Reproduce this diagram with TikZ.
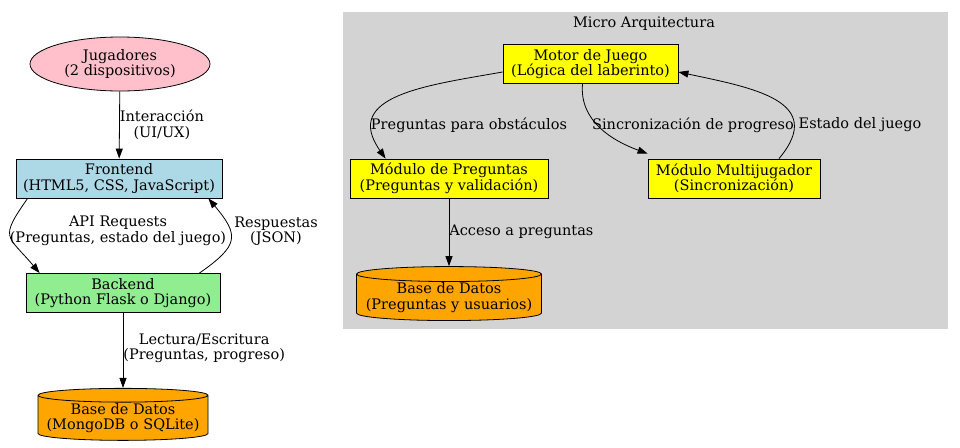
\documentclass[tikz,border=0pt]{standalone}
\usepackage{fontspec}
\setmainfont{DejaVu Serif}
\usetikzlibrary{arrows.meta,shapes.geometric}
\definecolor{rosa}{HTML}{FFC0CB}
\definecolor{azulclaro}{HTML}{ADD8E6}
\definecolor{verdeclaro}{HTML}{90EE90}
\definecolor{naranja}{HTML}{FFA500}
\definecolor{amarillo}{HTML}{FFFF00}
\definecolor{grisclaro}{HTML}{D3D3D3}
\begin{document}
\begin{tikzpicture}[
    x=1pt,
    y=-1pt,
    >={Triangle[length=10pt,width=7pt]},
    line width=0.8pt,
    font=\fontsize{14.5}{15.5}\selectfont,
    caja/.style={
        draw,
        inner sep=0pt,
        minimum height=39pt,
        align=center
    },
    usuario/.style={
        draw,
        ellipse,
        inner sep=0pt,
        minimum width=180pt,
        minimum height=54pt,
        align=center,
        fill=rosa
    },
    datos/.style={
        draw,
        cylinder,
        shape border rotate=90,
        aspect=0.09,
        inner sep=0pt,
        align=center,
        fill=naranja
    },
    grupo/.style={
        fill=grisclaro,
        minimum width=605pt,
        minimum height=317pt
    },
    etiqueta/.style={
        inner sep=1pt,
        align=center
    }
]
    \useasboundingbox (0,0) rectangle (960,447);

    % bloque de la micro arquitectura
    \node[grupo] (micro) at (645.5,170.5) {};
    \node[anchor=north,inner sep=0pt] (micro-titulo) at (644,16) {Micro Arquitectura};

    % arquitectura general
    \node[usuario] (jugadores) at (120,64)
        {Jugadores\\(2 dispositivos)};
    \node[caja,fill=azulclaro,minimum width=206pt] (frontend) at (119,178.5)
        {Frontend\\(HTML5, CSS, JavaScript)};
    \node[caja,fill=verdeclaro,minimum width=194pt] (backend) at (123,293)
        {Backend\\(Python Flask o Django)};
    \node[datos,minimum width=170pt,minimum height=52pt] (bd) at (123,418)
        {Base de Datos\\(MongoDB o SQLite)};

    % componentes internos
    \node[caja,fill=amarillo,minimum width=175pt] (motor) at (590.5,64)
        {Motor de Juego\\(Lógica del laberinto)};
    \node[caja,fill=amarillo,minimum width=198pt] (preguntas) at (449,178.5)
        {Módulo de Preguntas\\(Preguntas y validación)};
    \node[caja,fill=amarillo,minimum width=172pt] (multi) at (734,178.5)
        {Módulo Multijugador\\(Sincronización)};
    \node[datos,minimum width=185pt,minimum height=54pt] (bd-preg) at (449,297.5)
        {Base de Datos\\(Preguntas y usuarios)};

    \draw[->] (jugadores) -- (frontend)
        node[midway,right,etiqueta,inner sep=0pt] (lbl-inter) {Interacción\\(UI/UX)};
    \draw[->] ([xshift=12pt]frontend.south west) to[out=235,in=130,looseness=1.7]
        ([xshift=14pt]backend.north west);
    \node[etiqueta] (lbl-api) at (118,231) {API Requests\\(Preguntas, estado del juego)};
    \draw[->] ([xshift=-21pt]backend.north east) to[out=35,in=-50,looseness=1.65]
        ([xshift=-14pt]frontend.south east);
    \node[etiqueta] (lbl-resp) at (276,231) {Respuestas\\(JSON)};
    \draw[->] (backend) -- (bd.top)
        node[midway,right,etiqueta,inner sep=0pt,yshift=2pt] (lbl-rw) {Lectura/Escritura\\(Preguntas, progreso)};

    \draw[->] ([yshift=-8pt]motor.west) to[out=190,in=125,looseness=1.35]
        ([xshift=36pt]preguntas.north west);
    \node[etiqueta] (lbl-obs) at (469,125) {Preguntas para obstáculos};
    \draw[->] ([xshift=-8pt]motor.south) to[out=-95,in=160]
        ([yshift=5pt]multi.west |- multi.north);
    \node[etiqueta] (lbl-sinc) at (693,125) {Sincronización de progreso};
    \draw[->] ([xshift=45pt]multi.north) to[out=50,in=-12,looseness=1.45]
        ([yshift=-8pt]motor.east);
    \node[etiqueta] (lbl-estado) at (860,125) {Estado del juego};
    \draw[->] (preguntas) -- (bd-preg.top)
        node[midway,right,etiqueta,inner sep=0pt] (lbl-acc) {Acceso a preguntas};
\end{tikzpicture}
\end{document}
